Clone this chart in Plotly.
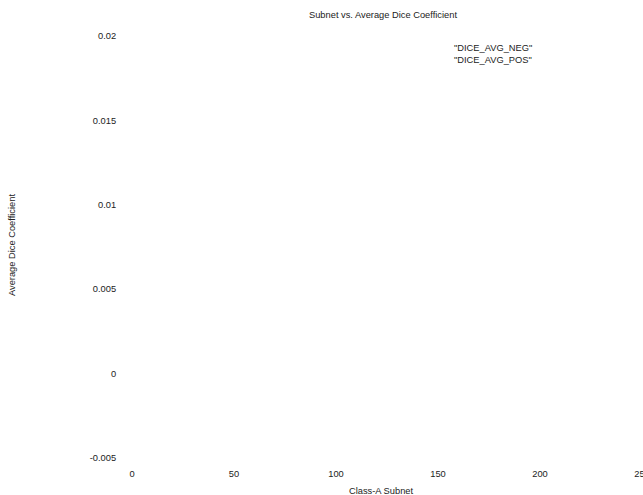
import plotly.graph_objects as go

# Data (the reference chart shows no plotted points)
subnet = []
dice_avg_neg = []
dice_avg_pos = []
series_names = ['"DICE_AVG_NEG"', '"DICE_AVG_POS"']
x_ticks = [0, 50, 100, 150, 200, 250]
y_ticks = [-0.005, 0, 0.005, 0.01, 0.015, 0.02]
y_tick_text = ["-0.005", "0", "0.005", "0.01", "0.015", "0.02"]

W, H = 643, 495
L, R, T, B = 132, 1, 36, 37
PW = W - L - R
PH = H - T - B
FONT = dict(family="Liberation Sans, Arial, sans-serif", size=9.3, color="#222222")


def px(x):
    return (x - L) / PW


def py(y):
    return 1 - (y - T) / PH


fig = go.Figure()
for name, ys in zip(series_names, [dice_avg_neg, dice_avg_pos]):
    fig.add_trace(go.Scatter(x=subnet, y=ys, mode="lines", name=name, showlegend=False))

annotations = [
    dict(text="Subnet vs. Average Dice Coefficient", x=px(383), y=py(15), xref="paper", yref="paper",
         xanchor="center", yanchor="middle", showarrow=False, font=FONT),
    dict(text="Class-A Subnet", x=px(381), y=py(491), xref="paper", yref="paper",
         xanchor="center", yanchor="middle", showarrow=False, font=FONT),
    dict(text="Average Dice Coefficient", x=px(12), y=py(245), xref="paper", yref="paper",
         xanchor="center", yanchor="middle", showarrow=False, textangle=-90, font=FONT),
]
for i, name in enumerate(series_names):
    annotations.append(dict(text=name, x=px(534), y=py(48 + 12 * i), xref="paper", yref="paper",
                            xanchor="right", yanchor="middle", showarrow=False, font=FONT))

fig.update_layout(
    width=W, height=H,
    margin=dict(l=L, r=R, t=T, b=B, pad=0, autoexpand=False),
    paper_bgcolor="white", plot_bgcolor="white",
    showlegend=False,
    font=FONT,
    annotations=annotations,
    xaxis=dict(range=[0, 250], tickvals=x_ticks, ticktext=[str(v) for v in x_ticks],
               showgrid=False, zeroline=False, showline=False, ticklabeloverflow="allow",
               automargin=False,
               ticks="outside", ticklen=7, tickcolor="rgba(0,0,0,0)", tickfont=FONT),
    yaxis=dict(range=[-0.005, 0.02], tickvals=y_ticks, ticktext=y_tick_text,
               showgrid=False, zeroline=False, showline=False, ticklabeloverflow="allow",
               automargin=False,
               ticks="outside", ticklen=13, tickcolor="rgba(0,0,0,0)", tickfont=FONT),
)

fig.write_html("out.html")
